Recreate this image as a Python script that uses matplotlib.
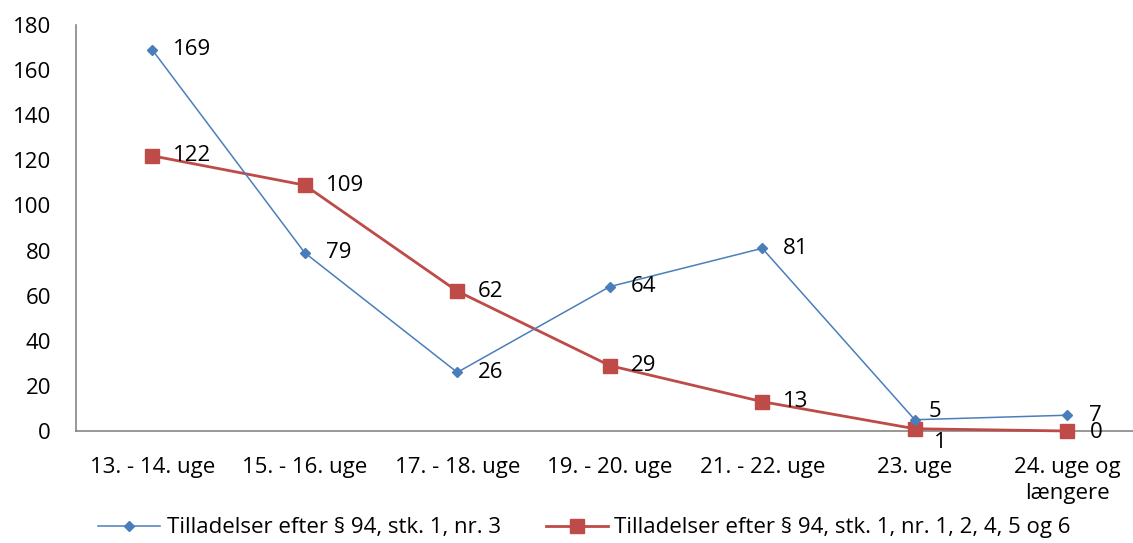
import matplotlib
matplotlib.use('Agg')
import matplotlib.pyplot as plt

categories = ['13. - 14. uge', '15. - 16. uge', '17. - 18. uge', '19. - 20. uge',
              '21. - 22. uge', '23. uge', '24. uge og\nlængere']
nr3 = [169, 79, 26, 64, 81, 5, 7]
nr_other = [122, 109, 62, 29, 13, 1, 0]
label_nr3 = 'Tilladelser efter § 94, stk. 1, nr. 3'
label_other = 'Tilladelser efter § 94, stk. 1, nr. 1, 2, 4, 5 og 6'
y_ticks = [0, 20, 40, 60, 80, 100, 120, 140, 160, 180]

BLUE = '#4A7EBB'
RED = '#BE4B48'
FS = 16

plt.rcParams['font.family'] = ['Open Sans', 'DejaVu Sans']
plt.rcParams['font.size'] = FS

fig = plt.figure(figsize=(11.33, 5.43), dpi=100)
# axes runs slightly past the right edge, like the cropped original
ax = fig.add_axes([76 / 1133, 112 / 543, 1067.5 / 1133, 406 / 543])

x = list(range(len(categories)))
ax.plot(x, nr3, color=BLUE, linewidth=1.1, marker='D', markersize=5,
        label=label_nr3, zorder=3, clip_on=False)
ax.plot(x, nr_other, color=RED, linewidth=2.0, marker='s', markersize=10,
        label=label_other, zorder=2, clip_on=False)

# data labels to the right of each point (a few nudged like in the original)
nr3_offsets = {5: (10, 6), 6: (16, 0)}
other_offsets = {5: (14, -10), 6: (16, -1)}
for i, v in enumerate(nr3):
    ax.annotate(str(v), (i, v), xytext=nr3_offsets.get(i, (15, 0)),
                textcoords='offset points', ha='left', va='center',
                fontsize=FS, zorder=5)
for i, v in enumerate(nr_other):
    ax.annotate(str(v), (i, v), xytext=other_offsets.get(i, (15, 0)),
                textcoords='offset points', ha='left', va='center',
                fontsize=FS, zorder=5)

ax.set_xlim(-0.5, len(categories) - 0.5)
ax.set_ylim(0, 180)
ax.set_yticks(y_ticks)
ax.set_xticks(x)
ax.set_xticklabels(categories, linespacing=1.3)
ax.tick_params(axis='both', length=0, labelsize=FS)
ax.tick_params(axis='y', pad=18)
ax.tick_params(axis='x', pad=19)

for side in ['top', 'right']:
    ax.spines[side].set_visible(False)
for side in ['left', 'bottom']:
    ax.spines[side].set_color('#868686')
    ax.spines[side].set_linewidth(1.2)
    ax.spines[side].set_zorder(1)

fig.legend(loc='center', bbox_to_anchor=(0.516, 15 / 543), ncol=2,
           frameon=False, fontsize=FS, handlelength=2.8, handletextpad=0.3,
           columnspacing=2.0, numpoints=1)

plt.savefig('out.png', dpi=100)
plt.close()
